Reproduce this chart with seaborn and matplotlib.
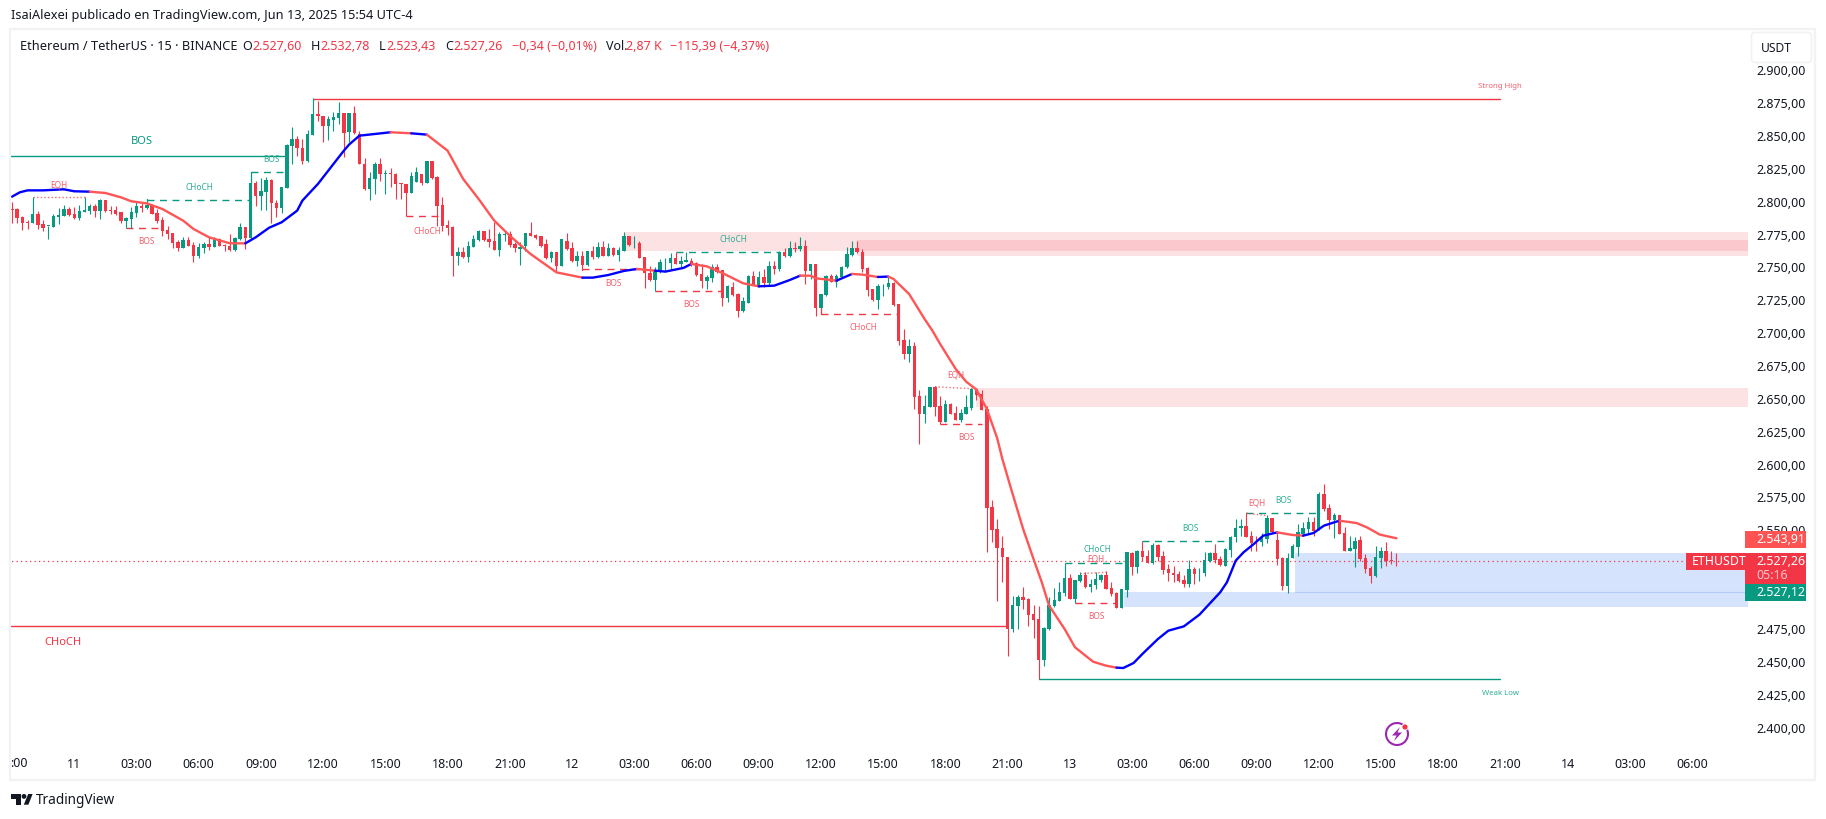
import numpy as np
import pandas as pd
import matplotlib
matplotlib.use("Agg")
import matplotlib.pyplot as plt
from matplotlib.patches import Rectangle, FancyBboxPatch, Circle, Polygon
import seaborn as sns

# ---------- candle data (15 min bars, bar number from the left edge) ----------
directions = ("rrrrgrrggg" "grrgggrgrr" "rrgggrgrrr" "rrrgrrggrg" "rrrggrgrgg"
              "rrgggrrggr" "rgggrgrrrg" "grgrrrrggr" "grrrrrgrgg" "grrrggrrgg"
              "rrrrgrgrrg" "rgrgrgrggr" "grrrggggrg" "grrrggrrgr" "rggrgrgrgr"
              "grgrgrggrg" "gggrrrrggg" "rrrgrrggrr" "grrgggrrrr" "rrrggrrrrg"
              "ggggrggrgg" "grrrggrgrr" "grrrrrrgrg" "ggrrggggrr" "rggrrrgggg"
              "grgrrgrrgg" "rrrggrrr")
highs = [2798.8,2794.3,2788.7,2785.4,2802.6,2792,2785.6,2781,2790,2794.3,
 2796.8,2795.3,2795.3,2796.8,2802.6,2797.6,2797.6,2801.4,2800.6,2796.3,
 2795.8,2791.2,2787.7,2795,2798.8,2798.3,2801.4,2797.6,2793.8,2787.9,
 2780.6,2775.5,2770.4,2772.2,2772.2,2768.4,2767.6,2768.4,2772.2,2772.2,
 2771.4,2767.1,2774.7,2772.7,2783.1,2780.3,2814,2815.3,2817,2817.8,
 2816.6,2800.9,2810.7,2843.2,2855.9,2849.5,2847,2854.1,2878,2876.2,
 2864.7,2864.2,2867.3,2874.9,2866.8,2866.8,2871.8,2853.3,2832.3,2821.6,
 2829.2,2832.3,2823.7,2824.7,2821.1,2813.5,2812.8,2821.6,2825.4,2820.4,
 2830,2830,2818.6,2802.6,2785.6,2781.1,2764.6,2764.6,2769.6,2774,
 2777.8,2776.7,2778.5,2783.6,2776,2777.3,2777.3,2768.4,2768.4,2775.5,
 2783.6,2774.7,2773.4,2770.9,2762,2761.3,2770.9,2775.5,2768.4,2762,
 2762,2762,2765.8,2768.3,2769.1,2767.8,2764.5,2764.5,2775.9,2773.4,
 2772.9,2769.1,2756.9,2750.6,2749.3,2755.7,2756.2,2760,2760.7,2757.7,
 2760.7,2756.2,2753.1,2751.8,2743.5,2751.8,2751.8,2747.5,2735.9,2737.9,
 2729.5,2726.5,2743.5,2746.8,2746.8,2748,2754.4,2754.4,2762,2763.8,
 2769.1,2768.3,2772.1,2770.4,2751.8,2751.6,2729,2743.5,2744.2,2744.2,
 2750.6,2764.5,2769.6,2769.6,2763.3,2749.3,2732.8,2736.6,2736.6,2742.5,
 2737.9,2721.4,2702.4,2694.8,2692.3,2655.8,2652.2,2658,2659.3,2651.7,
 2648.4,2646.1,2644.1,2641.6,2652.2,2657.3,2657.3,2656,2644.1,2572.3,
 2557.8,2544.6,2528.7,2499.5,2500,2505.8,2497.5,2492.7,2491.9,2475.4,
 2498.2,2505.3,2509.6,2524.1,2516,2511.4,2517.3,2517.3,2512.2,2517.3,
 2516,2518.5,2510.2,2502,2504.6,2533,2532.5,2534.5,2540.8,2534.3,
 2539.6,2538.8,2533.2,2523.6,2522.3,2518.5,2515.2,2526.6,2521.1,2520.3,
 2532.5,2532.5,2538.8,2529.9,2535.5,2545.2,2557.8,2557.8,2562.4,2549,
 2545.2,2546.9,2560.9,2558.3,2547.7,2528.7,2532,2538.8,2554,2555.3,
 2559.1,2559.1,2578.6,2584.5,2569.2,2562.4,2560.9,2551.5,2544.6,2543.9,
 2545.2,2531.2,2521.8,2537,2536.3,2540.1,2533.7,2532]
body_tops = [2793.8,2793.8,2787.7,2784.1,2790,2790,2782,2781,2788.2,2789.2,
 2793.5,2793.8,2790,2792.2,2793,2795.8,2795.8,2800.6,2800.6,2793,
 2793,2791.2,2786.7,2791.7,2795.8,2795.8,2797,2797,2790.7,2785.4,
 2777.8,2775.5,2768.9,2770.2,2770.2,2766.4,2764.8,2767.4,2767.1,2770.9,
 2770.9,2766.1,2765.6,2771.7,2780,2780,2813.5,2813.5,2807.7,2815.8,
 2816.1,2798.1,2810.5,2842.4,2847,2847,2840.1,2850.8,2866,2866,
 2864.7,2862.2,2863.5,2866.8,2866.8,2866.8,2866.8,2850.8,2828,2817.1,
 2828,2828,2821.1,2821.1,2820.4,2813.3,2812.8,2819.1,2821.6,2820.4,
 2830,2830,2817.8,2796.8,2781.6,2780,2760.8,2760.8,2765.3,2770.9,
 2777.3,2776.7,2770.9,2769.6,2774.7,2774.7,2774.7,2767.1,2764.6,2775.2,
 2775.5,2774,2772.9,2767.1,2760.8,2760.8,2770.9,2769.6,2763.8,2758.2,
 2757.7,2762,2762,2764.5,2764.5,2763.8,2763.8,2762.5,2773.2,2773.2,
 2768.1,2767.8,2756.9,2745,2747.5,2753.1,2753.6,2756.4,2756.7,2754.1,
 2754.6,2754.4,2752.4,2744.2,2742.2,2749.3,2749.3,2747.5,2734.9,2734.6,
 2729,2724,2743,2742.5,2742.2,2741.7,2750.6,2750.6,2761.2,2761.2,
 2763.8,2763.8,2765.5,2765.5,2751.6,2751.6,2729,2742.5,2742.5,2742.5,
 2749.3,2759.5,2763.8,2763.8,2761.2,2748.5,2732.8,2734.9,2735.4,2737.4,
 2737.4,2721.4,2694,2689.5,2689.5,2651.2,2643.6,2658,2658.5,2643.6,
 2645.4,2645.4,2638.3,2638.5,2642.8,2656.8,2656.8,2653,2641.5,2566.7,
 2550.2,2535.5,2528.7,2492.4,2498.2,2498.2,2497,2485.6,2481.8,2474.9,
 2492.4,2496,2502,2512.7,2512.7,2511.4,2515.2,2515.2,2508.4,2512.2,
 2515.2,2515.2,2505.1,2501.5,2504.6,2532.5,2532,2533.7,2533.2,2529.9,
 2538.3,2538.3,2529.4,2519.8,2516.5,2516,2511.4,2519.8,2519.8,2517.8,
 2526.6,2532,2532,2527.4,2535,2544.4,2551,2552.3,2552.3,2545.2,
 2541.4,2543.9,2558.3,2558.3,2541.9,2528.2,2528.2,2537.6,2547.7,2551,
 2555.8,2555.8,2576.9,2576.9,2565.9,2560.9,2560.9,2547.2,2535.5,2541.4,
 2541.9,2527.9,2520.3,2528.7,2533.2,2533.2,2526.9,2526.1]
body_bottoms = [2793.3,2786.9,2783.4,2783.1,2783.1,2781.8,2779.3,2780.6,2780.3,2787.9,
 2788.7,2789.2,2787.2,2786.7,2791.7,2792,2792.2,2792.2,2792.2,2792.5,
 2790,2784.4,2784.6,2786.1,2790.7,2794.8,2794.3,2790,2784.4,2777,
 2774.7,2767.9,2764.1,2764.3,2765.6,2757.7,2757.7,2764.1,2764.6,2765.1,
 2765.9,2765.4,2762.6,2762.6,2770.9,2771.4,2771.9,2803.9,2803.9,2806.4,
 2798.1,2794.8,2794.5,2810,2841.9,2839.9,2830,2830,2850,2864.2,
 2857.1,2857.1,2861.7,2863,2851.6,2852.1,2851.6,2828,2809,2809,
 2816.6,2820.4,2820.6,2820.4,2812.8,2812.8,2805.9,2805.9,2814,2813.3,
 2813.5,2817.3,2796.3,2781.1,2779.5,2758.2,2758.2,2757,2757,2764.6,
 2770.4,2770.4,2768.9,2762.8,2762.8,2774,2766.3,2763.8,2763.3,2765.8,
 2773.4,2772,2765.8,2756.2,2756.2,2750.6,2750.6,2763.3,2754.4,2754.4,
 2751.1,2751.1,2756.9,2756.9,2758.2,2758.2,2758.7,2758.7,2762,2766.6,
 2767.6,2756.4,2745,2739.4,2739.9,2745.5,2753.1,2752.6,2752.1,2752.1,
 2753.6,2751.8,2743.5,2738.7,2739.2,2741.2,2745.5,2726,2726.2,2728.3,
 2715.8,2715.8,2722.2,2736.1,2734.6,2737.4,2737.4,2748,2748,2757.7,
 2757.7,2763.3,2763.3,2746.8,2746.8,2718.6,2718.6,2728.3,2738.4,2738.4,
 2741.7,2749.3,2758.7,2760.7,2748,2732.3,2724.7,2724.5,2734.9,2734.6,
 2720.7,2693.5,2683.4,2683.4,2650.9,2637.8,2637.8,2643.3,2643.3,2631.9,
 2631.9,2637.8,2633.2,2633.4,2637.8,2642.6,2652.2,2641.1,2566.2,2549.7,
 2535.5,2528.7,2474.2,2474.2,2491.9,2496.5,2485,2481.2,2450.8,2450.8,
 2474.2,2491.9,2495.7,2501.5,2497,2497,2510.9,2505.8,2506.4,2507.6,
 2511.4,2504.6,2500.8,2490.1,2490.1,2504.1,2521.6,2521.6,2528.7,2524.4,
 2524.4,2529.2,2519,2516.5,2515.2,2510.9,2508.1,2508.4,2516.2,2517.3,
 2516.8,2525.6,2526.6,2522.8,2522.3,2534.5,2543.9,2550.7,2544.4,2539.6,
 2540.1,2540.1,2542.6,2547.7,2527.4,2507.1,2507.1,2527.9,2536.8,2546.4,
 2550.2,2549,2550.2,2565.4,2557.1,2557.1,2546.4,2533.7,2533.7,2535,
 2527.4,2519.8,2514.2,2514.2,2527.9,2526.1,2525.6,2525.7]
lows = [2783.1,2783.1,2778,2778.5,2783.1,2778.5,2777.3,2770.9,2780.3,2782.3,
 2788.7,2788.7,2786.1,2785.6,2791.2,2790,2787.4,2786.1,2791.2,2790,
 2789.4,2783.1,2779,2779,2787.4,2791.2,2793.8,2790,2783.1,2773.5,
 2770.9,2764.1,2761.5,2764.1,2765.4,2753.7,2756.2,2760.3,2762.8,2764.8,
 2765.4,2762,2762,2762,2770.4,2763.3,2770.9,2796.3,2793.3,2793.3,
 2783.1,2787.4,2790.7,2810,2828.2,2833.8,2828.2,2829.2,2850,2860.9,
 2845,2846.5,2853.3,2858.4,2833,2844.5,2850.8,2828,2808.4,2800.8,
 2805.1,2815.3,2805.1,2810.2,2801.3,2801.3,2788.2,2805.9,2814,2812,
 2813.5,2816.6,2781.1,2777.3,2774,2743,2751.1,2756.2,2753.2,2764.6,
 2769.6,2769.6,2764.6,2762.8,2758.2,2769.6,2764.6,2760.8,2751.1,2762,
 2772.9,2770.9,2764.6,2755.7,2753.2,2746.8,2750.6,2762.8,2753.2,2750.6,
 2747.6,2750.6,2755.6,2756.2,2757.7,2757.7,2758.2,2754.4,2762,2765.8,
 2764,2756.2,2733.3,2739.2,2731.6,2745,2745.5,2748,2751.8,2749.3,
 2753.1,2750.6,2743,2733.3,2732.8,2737.9,2745,2719.6,2722.7,2727.8,
 2711.3,2715.1,2722.2,2735.9,2734.1,2734.1,2734.9,2744.2,2746.8,2756.9,
 2756.9,2760.7,2762,2736.6,2740.4,2712.5,2718.6,2727.8,2737.9,2734.1,
 2741.7,2748.6,2758.2,2760.2,2745.5,2727.2,2723.9,2717.6,2727.8,2732.8,
 2719.6,2690.2,2679.6,2677.6,2641.6,2614.9,2630.9,2643.3,2636.5,2630.1,
 2631.4,2637.5,2632.9,2631.9,2637.8,2641.1,2648.4,2640.8,2533,2540.6,
 2495.7,2509.6,2453.9,2472.1,2474.2,2489.4,2476.7,2467,2436.1,2446.3,
 2473.6,2491.1,2495.2,2499.5,2497,2493.7,2510.1,2505.3,2502.6,2504.6,
 2509.6,2504.6,2499.5,2490.1,2490.1,2498.7,2515.2,2516.8,2526.1,2524.1,
 2523.6,2526.1,2516,2510.9,2510.1,2509.6,2505.8,2506.4,2508.4,2510.9,
 2514.7,2524.9,2524.4,2521.8,2521.8,2529.2,2540.1,2545.2,2543.9,2533.7,
 2533.7,2537.6,2539.6,2547.2,2523.1,2504.1,2501.5,2527.9,2529.9,2545.2,
 2546.4,2545.2,2549.7,2564.2,2550.2,2543.4,2546.4,2533.7,2533.5,2521.6,
 2526.1,2516.8,2509.2,2513.5,2520.3,2522.3,2523.6,2522.3]

# ---------- moving average ----------
ma_bars = [0,1.5,3,6,10,12,15,18,21,23,26,29,33,35,38,42,45,47,49.6,52,55,56,59,62,64,65,67,70,73,77,80,84,87,90,93,96,100,105,110,112,115,118,120.5,124,126,129.5,131,134,137,141,144,147,150,152,154,155,159,162,164,167,169,170,173,176,177.5,179,182,184,186,188,190,191,192.5,195,197,198.6,200,203,205,208.5,211,213,214.3,216.3,218,221,223,226,229,233,234.3,236,237.5,239.5,241.3,244,247,249,251,253,256,259.3,261.3,263.8,267]
ma_values = [2803.1,2806.4,2807.9,2807.9,2808.7,2807.2,2806.9,2805.9,2802.6,2799.6,2798,2793.7,2784.9,2778.5,2772.2,2767.6,2767.6,2772.2,2779.5,2783.6,2792.5,2800.1,2812.8,2828,2838.1,2842.7,2849.5,2850.8,2852.1,2851.3,2850.3,2838.1,2816.6,2801.3,2784.9,2773.4,2759.5,2745.5,2741.5,2741.5,2743.5,2746.6,2748.1,2746.8,2746.1,2748.9,2751.9,2750.1,2745,2737.2,2734.9,2735.4,2739.7,2743,2743,2741,2739.2,2744.3,2743.8,2742,2742.3,2740.5,2729.1,2710,2701.2,2691,2672,2662.4,2656.3,2641.6,2619.3,2603.5,2583.2,2550.3,2527.5,2509.7,2492,2474.2,2460.3,2449.3,2446.3,2444.8,2444.5,2448.3,2455.2,2466.6,2472.9,2476.2,2485.1,2502.1,2509.7,2526.2,2532.5,2538.9,2545.2,2547.7,2545.7,2545.2,2547.2,2552.8,2556.6,2554.8,2551.5,2546,2543.2]
blue_from = [0,7,10.5,44.6,67,77,110,123.7,144,159,167,213,248.5]
blue_to = [5,10,14.5,66.8,73,80,120.5,131.4,152,162.5,169,243.5,256.3]

# ---------- zones and levels ----------
pink_from = [118, 163, 186]
pink_top = [2776.4, 2770.1, 2657.5]
pink_bottom = [2762.0, 2758.2, 2643.3]
blue_zone_from = [214.5, 247.5]
blue_zone_top = [2502.1, 2532.0]
blue_zone_bottom = [2491.1, 2502.1]
range_line = 2502.1
last_line = 2525.7

solid_from = [58, 198, -1, -1]
solid_to = [287, 287, 53, 192]
solid_price = [2877.6, 2436.1, 2833.8, 2476.2]
solid_colour = ["r", "g", "g", "r"]

dash_from = [26, 46, 22, 76, 110, 124, 128, 156, 179, 203, 205, 218, 238]
dash_to = [46, 53, 29, 83, 122, 137, 148, 171, 187, 215, 213, 235, 252]
dash_price = [2800.9, 2821.6, 2779, 2788.2, 2747.8, 2731, 2760.7, 2713.6, 2629.9, 2524.1, 2493.7, 2540.8, 2562.1]
dash_colour = ["g", "g", "r", "r", "r", "r", "g", "r", "r", "g", "r", "g", "g"]

dot_from = [4, 178, 206, 238]
dot_to = [14, 186, 211, 242]
dot_start = [2802.6, 2658.5, 2516.3, 2562.4]
dot_end = [2802.6, 2656.8, 2517.3, 2560.4]

price_ticks = list(range(2400, 2901, 25))
hidden_price_labels = [2500, 2525]   # covered by the price tags in the picture
time_labels = ["11","03:00","06:00","09:00","12:00","15:00","18:00","21:00",
               "12","03:00","06:00","09:00","12:00","15:00","18:00","21:00",
               "13","03:00","06:00","09:00","12:00","15:00","18:00","21:00",
               "14","03:00","06:00"]
time_bars = list(range(12, 12 + 12 * len(time_labels), 12))

UP, DOWN = "#089981", "#F23645"
COL = {"r": DOWN, "g": UP}
TXT = "#131722"

sns.set_theme(style="white")
plt.rcParams["font.family"] = ["Noto Sans", "DejaVu Sans"]

W, H = 1826, 820
fig = plt.figure(figsize=(W / 100, H / 100), dpi=100, facecolor="white")
ax = fig.add_axes([11 / W, 1 - 745 / H, (1747 - 11) / W, (745 - 31) / H])
ax.set_xlim(-0.193, 334.6)
ax.set_ylim(2386.7, 2929.9)
ax.patch.set_alpha(0)
for s in ax.spines.values():
    s.set_visible(False)

# zones
for a, t_, b in zip(pink_from, pink_top, pink_bottom):
    ax.fill_between([a, 335], b, t_, color=DOWN, alpha=0.14, lw=0, zorder=1)
for a, t_, b in zip(blue_zone_from, blue_zone_top, blue_zone_bottom):
    ax.fill_between([a, 335], b, t_, color="#D5E3FC", lw=0, zorder=1)
ax.plot([247.5, 335], [range_line, range_line], color="#B5CBF5", lw=0.8, zorder=1.2)
ax.plot([-1, 325], [last_line, last_line], color=DOWN, lw=0.9, ls=(0, (1, 2.6)), zorder=1.5)

# candles
n = len(highs)
assert n == len(lows) == len(body_tops) == len(body_bottoms) == len(directions) == 268
bars = np.arange(n)
up = np.array([d == "g" for d in directions])
hi, lo = np.array(highs), np.array(lows)
tp, bt = np.array(body_tops), np.array(body_bottoms)
colours = np.where(up, UP, DOWN)
ax.vlines(bars, lo, hi, colors=colours, lw=0.8, zorder=3)
ax.bar(bars, np.maximum(tp - bt, 0.6), bottom=bt, width=0.66, color=colours, lw=0, zorder=3.2)

# structure levels
for a, b, p, c in zip(solid_from, solid_to, solid_price, solid_colour):
    ax.plot([a, b], [p, p], color=COL[c], lw=1.0, zorder=2.5)
for a, b, p, c in zip(dash_from, dash_to, dash_price, dash_colour):
    ax.plot([a, b], [p, p], color=COL[c], lw=1.0, ls=(0, (5, 4)), zorder=2.5)
    anchor = hi[a] if c == "g" else lo[a]
    ax.plot([a, a], [anchor, p], color=COL[c], lw=0.9, zorder=2.5)
for a, b, p, q in zip(dot_from, dot_to, dot_start, dot_end):
    ax.plot([a, b], [p, q], color=DOWN, lw=1.0, ls=(0, (1, 1.6)), alpha=0.75, zorder=2.5)

# moving average, split in red and blue runs
ma = pd.DataFrame({"bar": ma_bars, "value": ma_values})
mid = (ma["bar"].values[:-1] + ma["bar"].values[1:]) / 2
seg_blue = np.zeros(len(mid), bool)
for a, b in zip(blue_from, blue_to):
    seg_blue |= (mid >= a) & (mid <= b)
start = 0
for k in range(1, len(mid) + 1):
    if k == len(mid) or seg_blue[k] != seg_blue[start]:
        part = ma.iloc[start:k + 1]
        sns.lineplot(data=part, x="bar", y="value", ax=ax, estimator=None, sort=False,
                     color="#0000FF" if seg_blue[start] else "#FF5555", lw=1.7,
                     zorder=4, legend=False)
        start = k
ax.set_xlabel("")
ax.set_ylabel("")

# axes text
ax.yaxis.tick_right()
ax.set_yticks(price_ticks)
ax.set_yticklabels(["" if v in hidden_price_labels else
                    f"{v:,.2f}".replace(",", "#").replace(".", ",").replace("#", ".") for v in price_ticks],
                   fontsize=9, color=TXT)
ax.set_xticks(time_bars)
ax.set_xticklabels(time_labels, fontsize=9, color=TXT)
ax.tick_params(axis="y", length=0, pad=7)
ax.tick_params(axis="x", length=0, pad=9.5)

# overlay in figure pixels
ch = fig.add_axes([0, 0, 1, 1], zorder=5)
ch.set_xlim(0, W)
ch.set_ylim(H, 0)
ch.axis("off")
ch.add_patch(Rectangle((10, 30), 1805, 751, fill=False, ec="#F1F2F4", lw=1.6))

def t(x, y, s, size=6, c=TXT, ha="center", **kw):
    ch.text(x, y, s, fontsize=size, color=c, ha=ha, va="center", **kw)

t(18.5, 763.5, ":00", 9)

GL, RL = "#2FAE98", "#F5606D"
labels = [(142, 141.5, "BOS", 8, UP), (63, 643, "CHoCH", 8, DOWN), (271, 160, "BOS", 6, GL),
          (59, 185, "EQH", 6, RL), (199, 187, "CHoCH", 6, GL), (146, 242, "BOS", 6, RL),
          (427, 231, "CHoCH", 6, RL), (613, 284, "BOS", 6, RL), (691, 305, "BOS", 6, RL),
          (733, 240, "CHoCH", 6, GL), (863, 328, "CHoCH", 6, RL), (956, 375, "EQH", 6, RL),
          (966, 438, "BOS", 6, RL), (1097, 550, "CHoCH", 6, GL), (1096, 559, "EQH", 6, RL),
          (1096, 617, "BOS", 6, RL), (1190, 529, "BOS", 6, GL), (1257, 503, "EQH", 6, RL),
          (1283, 501, "BOS", 6, GL), (1500, 86.5, "Strong High", 5.6, RL), (1500, 694, "Weak Low", 5.6, GL)]
for x, y, s, size, c in labels:
    t(x, y, s, size, c)

# headers
t(11, 16, "IsaiAlexei publicado en TradingView.com, Jun 13, 2025 15:54 UTC-4", 9.2, ha="left")
t(20, 47, "Ethereum / TetherUS · 15 · BINANCE", 9.2, ha="left")
for x, s, c in [(242, "O", TXT), (252, "2.527,60", DOWN), (311, "H", TXT), (320, "2.532,78", DOWN),
                (379, "L", TXT), (386, "2.523,43", DOWN), (445, "C", TXT), (453, "2.527,26", DOWN),
                (512, "−0,34 (−0,01%)", DOWN), (606, "Vol.", TXT), (626, "2,87 K", DOWN),
                (670, "−115,39 (−4,37%)", DOWN)]:
    t(x, 47, s, 9.0, c, ha="left")

# USDT button
ch.add_patch(FancyBboxPatch((1753, 35), 57, 27, boxstyle="round,pad=1.5,rounding_size=4",
                            fc="white", ec="#F1F2F4", lw=1.2, zorder=6))
t(1761, 48, "USDT", 8.7, ha="left", zorder=7)

# price tags
for x0, y0, w, h, c in [(1745, 532, 61, 17, "#FF5252"), (1745, 554, 61, 31, DOWN),
                        (1745, 585, 61, 17, UP), (1686, 554, 59, 17, DOWN)]:
    ch.add_patch(Rectangle((x0, y0), w, h, fc=c, lw=0, zorder=6))
for x, y, s, c in [(1756, 540, "2.543,91", "white"), (1756, 561.5, "2.527,26", "white"),
                   (1756, 575.5, "05:16", "#FBC5CA"), (1756, 592.5, "2.527,12", "white"),
                   (1692, 562, "ETHUSDT", "white")]:
    t(x, y, s, 8.9, c, ha="left", zorder=7)

# lightning badge
ch.add_patch(Circle((1397, 735), 11, fc="white", ec="#9C27B0", lw=1.5, zorder=6))
ch.add_patch(Polygon([(1400, 728), (1392, 736.5), (1396.5, 736.5), (1394, 742), (1402, 733.5), (1397.5, 733.5)],
                     fc="#9C27B0", lw=0, zorder=7))
ch.add_patch(Circle((1405, 728), 3.6, fc="white", lw=0, zorder=7))
ch.add_patch(Circle((1405, 728), 2.6, fc=DOWN, lw=0, zorder=8))

# TradingView logo
LOGO = "#131722"
ch.add_patch(Polygon([(11, 795), (20.5, 795), (20.5, 805.7), (15.5, 805.7), (15.5, 799.6), (11, 799.6)], fc=LOGO, lw=0))
ch.add_patch(Circle((24, 797.4), 2.4, fc=LOGO, lw=0))
ch.add_patch(Polygon([(28.2, 795), (32.6, 795), (28.4, 805.7), (23.8, 805.7)], fc=LOGO, lw=0))
t(36, 801, "TradingView", 9.8, ha="left")

fig.savefig("out.png", dpi=100)
